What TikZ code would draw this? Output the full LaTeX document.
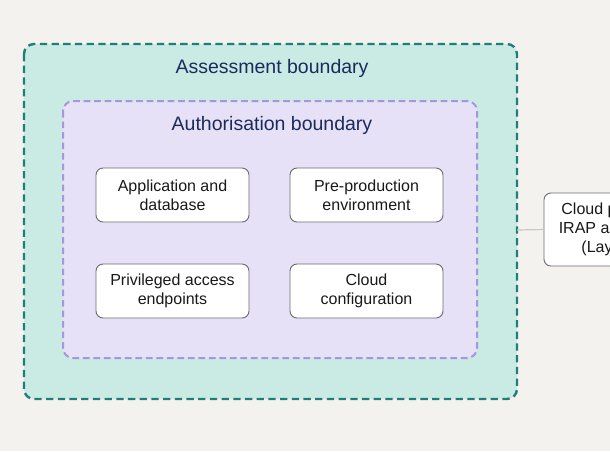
\documentclass[tikz,border=0pt]{standalone}
\usepackage{fontspec}
\setmainfont{Liberation Sans}
\definecolor{bgc}{HTML}{F3F2EE}
\definecolor{outerfill}{HTML}{C9EBE4}
\definecolor{outerline}{HTML}{1F7F78}
\definecolor{innerfill}{HTML}{E6E1F6}
\definecolor{innerline}{HTML}{A696DE}
\definecolor{titlec}{HTML}{1C2A5C}
\definecolor{boxline}{HTML}{6A6A70}
\definecolor{linkc}{HTML}{C8C8C4}
\begin{document}
\begin{tikzpicture}[x=1pt,y=-1pt,
  comp/.style={draw=boxline, line width=0.9pt, fill=white, rounded corners=7pt,
    minimum width=153pt, minimum height=54pt, align=center, inner sep=0pt,
    font=\fontsize{16}{19}\selectfont, text=black!90},
  title/.style={text=titlec, inner sep=0pt},
]
\useasboundingbox (0,0) rectangle (610,451);
\fill[bgc] (0,0) rectangle (610,451);
\begin{scope}
\clip (0,0) rectangle (610,451);
% outer assessment boundary
\draw[outerline, fill=outerfill, line width=2.4pt, rounded corners=10pt,
  dash pattern=on 7.3pt off 4.4pt] (24,44) rectangle (517,399);
\node[coordinate] (outerE) at (517,230) {};
% inner authorisation boundary
\draw[innerline, fill=innerfill, line width=2pt, rounded corners=10pt,
  dash pattern=on 6.7pt off 3.8pt] (63,101) rectangle (477,358);
\node[title, font=\fontsize{19.5}{23}\selectfont] (assess) at (272,68) {Assessment boundary};
\node[title, font=\fontsize{19.5}{23}\selectfont] (author) at (272,125) {Authorisation boundary};
\node[comp] (app) at (172.5,195) {Application and\\database};
\node[comp] (pre) at (366.5,195) {Pre-production\\environment};
\node[comp] (priv) at (172.5,291) {Privileged access\\endpoints};
\node[comp] (cfg) at (366.5,291) {Cloud\\configuration};
% external cloud provider node (cropped by the picture edge)
\node[comp, anchor=west, minimum width=139pt, minimum height=73pt] (cloud) at (543.5,229.5)
  {Cloud provider\\IRAP assessed\\(Layer 1)};
\draw[linkc, line width=1.2pt] (outerE) -- (cloud.west);
\end{scope}
\end{tikzpicture}
\end{document}
